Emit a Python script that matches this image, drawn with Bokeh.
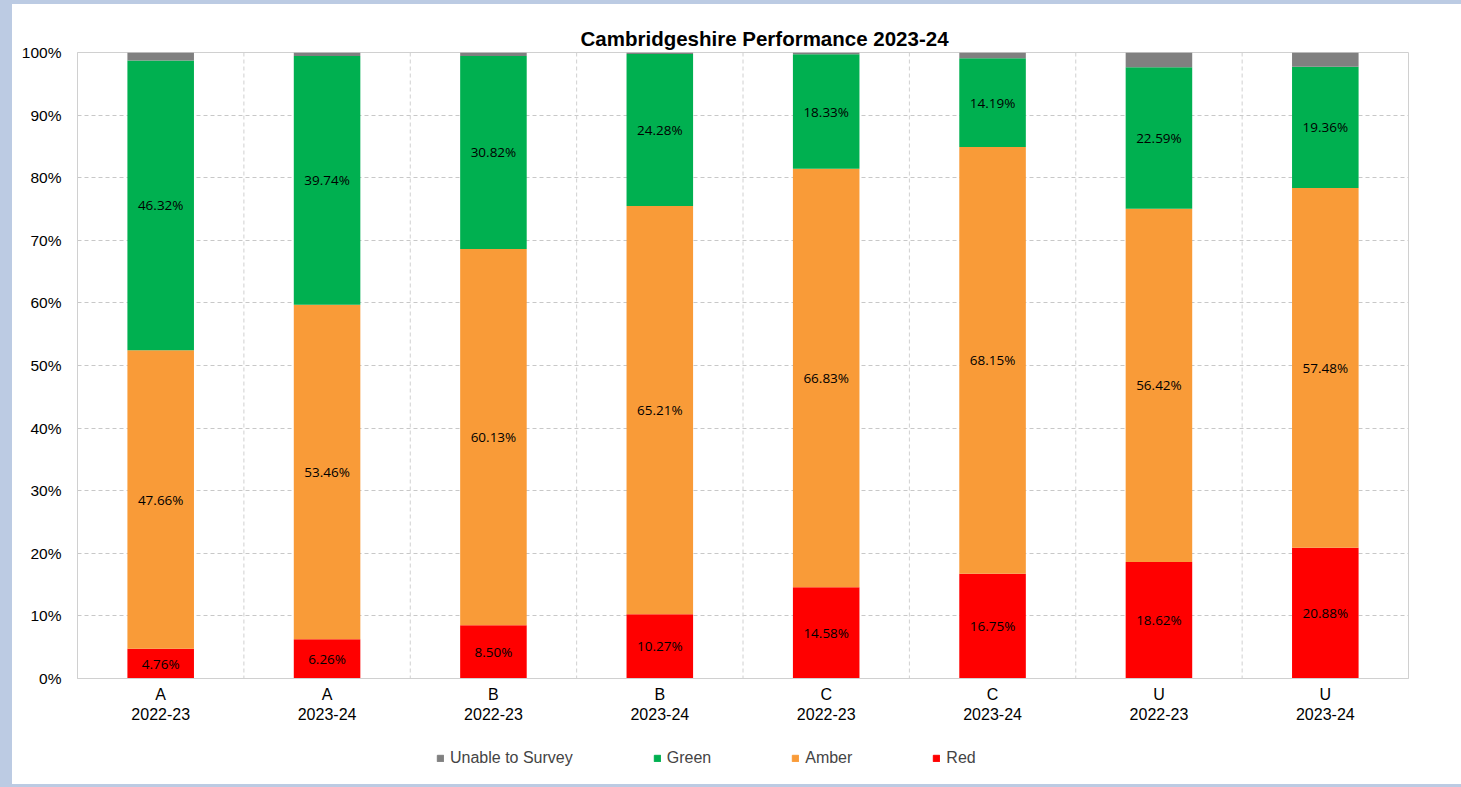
from bokeh.plotting import figure
from bokeh.models import ColumnDataSource, FactorRange, Range1d, NumeralTickFormatter, FixedTicker, Legend, LegendItem, Span
from bokeh.layouts import column
from bokeh.embed import file_html
from bokeh.resources import INLINE
from bokeh.core.properties import value
import numpy as np

bands = ["A", "A", "B", "B", "C", "C", "U", "U"]
years = ["2022-23", "2023-24"] * 4
red = [4.76, 6.26, 8.50, 10.27, 14.58, 16.75, 18.62, 20.88]
amber = [47.66, 53.46, 60.13, 65.21, 66.83, 68.15, 56.42, 57.48]
green = [46.32, 39.74, 30.82, 24.28, 18.33, 14.19, 22.59, 19.36]
unable = [1.26, 0.54, 0.55, 0.24, 0.26, 0.91, 2.37, 2.28]

cats = [f"{b}\n{y}" for b, y in zip(bands, years)]
series = ["red", "amber", "green", "unable"]
names = {"red": "Red", "amber": "Amber", "green": "Green", "unable": "Unable to Survey"}
colors = {"red": "#ff0000", "amber": "#f99b38", "green": "#00b050", "unable": "#808080"}
vals = {"red": red, "amber": amber, "green": green, "unable": unable}

data = {"cat": cats}
for s in series:
    data[s] = [v / 100 for v in vals[s]]
src = ColumnDataSource(data)

p = figure(x_range=FactorRange(*cats), y_range=Range1d(0, 1),
           width=1449, height=740, output_backend="svg", toolbar_location=None,
           min_border_left=65, min_border_right=53, min_border_top=48, min_border_bottom=66,
           margin=(4, 0, 0, 12))
p.title.text = "Cambridgeshire Performance 2023-24"
p.title.align = "left"
p.title.offset = 503
p.title.text_font = "Liberation Sans"
p.title.text_font_size = "20.5px"
p.title.text_font_style = "bold"
p.title.text_color = "#000000"
p.title.standoff = 5

renderers = p.vbar_stack(series, x="cat", width=0.4, source=src,
                         color=[colors[s] for s in series], line_width=0)

cum = np.zeros(len(cats))
for s in ["red", "amber", "green"]:
    v = np.array(vals[s]) / 100
    mid = cum + v / 2
    cum = cum + v
    lsrc = ColumnDataSource({"cat": cats, "y": list(mid), "t": [f"{x:.2f}%" for x in vals[s]]})
    p.text(x="cat", y="y", text="t", source=lsrc, text_align="center", text_baseline="middle",
           text_font=value("Open Sans"), text_font_size="13.5px", text_color="#000000")

p.yaxis.ticker = FixedTicker(ticks=[i / 10 for i in range(11)])
p.yaxis.formatter = NumeralTickFormatter(format="0%")
for ax in (p.xaxis, p.yaxis):
    ax.major_label_text_font = "Liberation Sans"
    ax.major_label_text_color = "#000000"
    ax.axis_line_color = "#d0d0d0"
    ax.major_tick_line_color = None
    ax.minor_tick_line_color = None
p.xaxis.major_label_text_font_size = "16px"
p.yaxis.major_label_text_font_size = "15.5px"
p.yaxis.major_label_standoff = 10
p.xaxis.major_label_standoff = 1

p.ygrid.grid_line_color = "#c8c8c8"
p.ygrid.grid_line_dash = "4 3"
p.xgrid.grid_line_color = None

for i in range(1, len(cats)):
    p.add_layout(Span(location=i, dimension="height", line_color="#d0d0d0", line_dash="4 3", line_width=1))

p.outline_line_color = "#d0d0d0"
p.background_fill_color = "#ffffff"
p.border_fill_color = "#ffffff"

# separate legend strip below the chart (same borders so frames line up)
lp = figure(width=1449, height=40, output_backend="svg", toolbar_location=None,
            x_range=Range1d(0, 1), y_range=Range1d(0, 1),
            min_border_left=65, min_border_right=53, min_border_top=0, min_border_bottom=0,
            margin=(0, 0, 3, 12))
lp.axis.visible = False
lp.grid.visible = False
lp.outline_line_color = None
lp.border_fill_color = "#ffffff"
lp.background_fill_color = "#ffffff"
dummy = {s: lp.vbar(x=[-5], top=[-5], width=0.1, color=colors[s]) for s in series}
items = [LegendItem(label=names[s], renderers=[dummy[s]]) for s in series[::-1]]
legend = Legend(items=items, orientation="horizontal", location=(359, 17), glyph_width=8, glyph_height=8,
                label_standoff=6, spacing=80, label_text_font="Liberation Sans", label_text_font_size="16px",
                border_line_color=None, background_fill_alpha=0, padding=4, margin=0)
lp.add_layout(legend, "center")

bg = ("linear-gradient(#bccbe3 4px, transparent 4px), "
      "linear-gradient(to top, #bccbe3 3px, transparent 3px), "
      "linear-gradient(to right, #bccbe3 12px, #ffffff 12px)")
layout = column(p, lp, spacing=0, styles={"background": bg})
open("out.html", "w").write(file_html(layout, INLINE))
